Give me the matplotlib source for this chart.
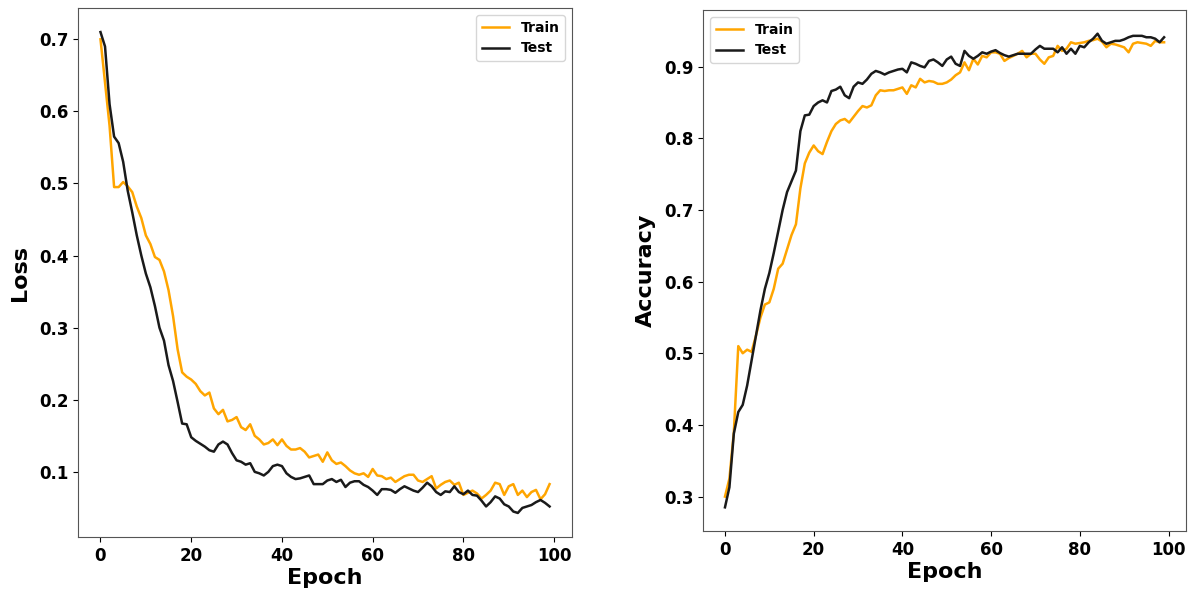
import matplotlib
matplotlib.use("Agg")
import matplotlib.pyplot as plt
import numpy as np

epochs = np.arange(100)

# Loss
train_loss = [0.700, 0.640, 0.580, 0.495, 0.495, 0.502, 0.496, 0.488, 0.468, 0.452,
              0.428, 0.416, 0.398, 0.394, 0.378, 0.352, 0.316, 0.270, 0.238, 0.232,
              0.228, 0.222, 0.212, 0.206, 0.210, 0.188, 0.180, 0.186, 0.170, 0.172,
              0.176, 0.162, 0.158, 0.166, 0.150, 0.145, 0.138, 0.140, 0.145, 0.137,
              0.145, 0.136, 0.131, 0.131, 0.133, 0.128, 0.120, 0.122, 0.124, 0.114,
              0.127, 0.116, 0.111, 0.113, 0.108, 0.102, 0.098, 0.096, 0.098, 0.093,
              0.104, 0.095, 0.094, 0.090, 0.092, 0.086, 0.090, 0.094, 0.096, 0.096,
              0.088, 0.086, 0.090, 0.094, 0.077, 0.082, 0.086, 0.088, 0.082, 0.085,
              0.068, 0.071, 0.074, 0.070, 0.063, 0.068, 0.074, 0.085, 0.083, 0.068,
              0.080, 0.083, 0.068, 0.074, 0.065, 0.072, 0.075, 0.062, 0.069, 0.083]
test_loss = [0.710, 0.690, 0.610, 0.565, 0.556, 0.530, 0.490, 0.460, 0.428, 0.400,
             0.375, 0.356, 0.330, 0.300, 0.282, 0.248, 0.226, 0.197, 0.167, 0.166,
             0.148, 0.143, 0.139, 0.135, 0.130, 0.128, 0.138, 0.142, 0.138, 0.126,
             0.116, 0.114, 0.110, 0.112, 0.100, 0.098, 0.095, 0.100, 0.108, 0.110,
             0.108, 0.098, 0.093, 0.090, 0.091, 0.093, 0.095, 0.083, 0.083, 0.083,
             0.088, 0.090, 0.086, 0.089, 0.079, 0.085, 0.087, 0.087, 0.082, 0.079,
             0.074, 0.068, 0.076, 0.076, 0.075, 0.071, 0.076, 0.080, 0.077, 0.074,
             0.072, 0.078, 0.085, 0.080, 0.072, 0.068, 0.073, 0.072, 0.080, 0.072,
             0.069, 0.074, 0.068, 0.067, 0.060, 0.052, 0.058, 0.066, 0.063, 0.055,
             0.052, 0.045, 0.043, 0.050, 0.052, 0.054, 0.058, 0.061, 0.057, 0.052]

# Accuracy (right panel)
train_acc = [0.300, 0.325, 0.390, 0.510, 0.500, 0.505, 0.502, 0.525, 0.550, 0.568,
             0.571, 0.590, 0.618, 0.625, 0.645, 0.665, 0.680, 0.730, 0.765, 0.780,
             0.790, 0.782, 0.778, 0.795, 0.810, 0.820, 0.825, 0.827, 0.822, 0.830,
             0.838, 0.845, 0.843, 0.846, 0.860, 0.867, 0.866, 0.867, 0.867, 0.869,
             0.871, 0.862, 0.874, 0.871, 0.883, 0.878, 0.880, 0.879, 0.876, 0.876,
             0.878, 0.882, 0.888, 0.892, 0.906, 0.895, 0.911, 0.903, 0.915, 0.913,
             0.920, 0.920, 0.918, 0.908, 0.912, 0.915, 0.918, 0.922, 0.913, 0.918,
             0.918, 0.910, 0.904, 0.913, 0.915, 0.929, 0.922, 0.925, 0.934, 0.932,
             0.933, 0.934, 0.936, 0.937, 0.939, 0.935, 0.927, 0.932, 0.931, 0.929,
             0.927, 0.920, 0.932, 0.934, 0.933, 0.932, 0.929, 0.936, 0.934, 0.934]
test_acc = [0.285, 0.313, 0.388, 0.418, 0.428, 0.455, 0.490, 0.525, 0.560, 0.590,
            0.612, 0.640, 0.670, 0.700, 0.725, 0.740, 0.755, 0.810, 0.832, 0.833,
            0.845, 0.850, 0.853, 0.850, 0.866, 0.868, 0.872, 0.860, 0.856, 0.872,
            0.878, 0.876, 0.882, 0.890, 0.894, 0.892, 0.889, 0.892, 0.894, 0.896,
            0.897, 0.892, 0.906, 0.904, 0.901, 0.899, 0.908, 0.910, 0.906, 0.901,
            0.910, 0.914, 0.904, 0.901, 0.922, 0.915, 0.911, 0.915, 0.920, 0.918,
            0.921, 0.923, 0.919, 0.916, 0.914, 0.916, 0.918, 0.918, 0.918, 0.918,
            0.924, 0.929, 0.925, 0.925, 0.925, 0.920, 0.927, 0.918, 0.925, 0.918,
            0.929, 0.927, 0.934, 0.939, 0.946, 0.936, 0.932, 0.934, 0.936, 0.936,
            0.938, 0.941, 0.943, 0.943, 0.943, 0.941, 0.941, 0.939, 0.934, 0.941]

train_color = "#FFA500"
test_color = "#1a1a1a"

fig = plt.figure(figsize=(11.95, 5.99), dpi=100)
ax1 = fig.add_axes([0.0653, 0.1035, 0.4134, 0.8831])
ax2 = fig.add_axes([0.5883, 0.1135, 0.4042, 0.8698])

def style(ax, ylabel, loc):
    ax.set_xlabel("Epoch", fontsize=16, fontweight="bold", labelpad=2)
    ax.set_ylabel(ylabel, fontsize=16, fontweight="bold", labelpad=6)
    ax.set_xticks([0, 20, 40, 60, 80, 100])
    for lab in ax.get_xticklabels() + ax.get_yticklabels():
        lab.set_fontweight("bold")
        lab.set_fontsize(12)
    for s in ax.spines.values():
        s.set_color("#555555")
    ax.legend(loc=loc, prop={"weight": "bold", "size": 10})

ax1.plot(epochs, train_loss, color=train_color, lw=1.8, label="Train")
ax1.plot(epochs, test_loss, color=test_color, lw=1.8, label="Test")
style(ax1, "Loss", "upper right")

ax2.plot(epochs, train_acc, color=train_color, lw=1.8, label="Train")
ax2.plot(epochs, test_acc, color=test_color, lw=1.8, label="Test")
style(ax2, "Accuracy", "upper left")

fig.savefig("out.png", dpi=100)
